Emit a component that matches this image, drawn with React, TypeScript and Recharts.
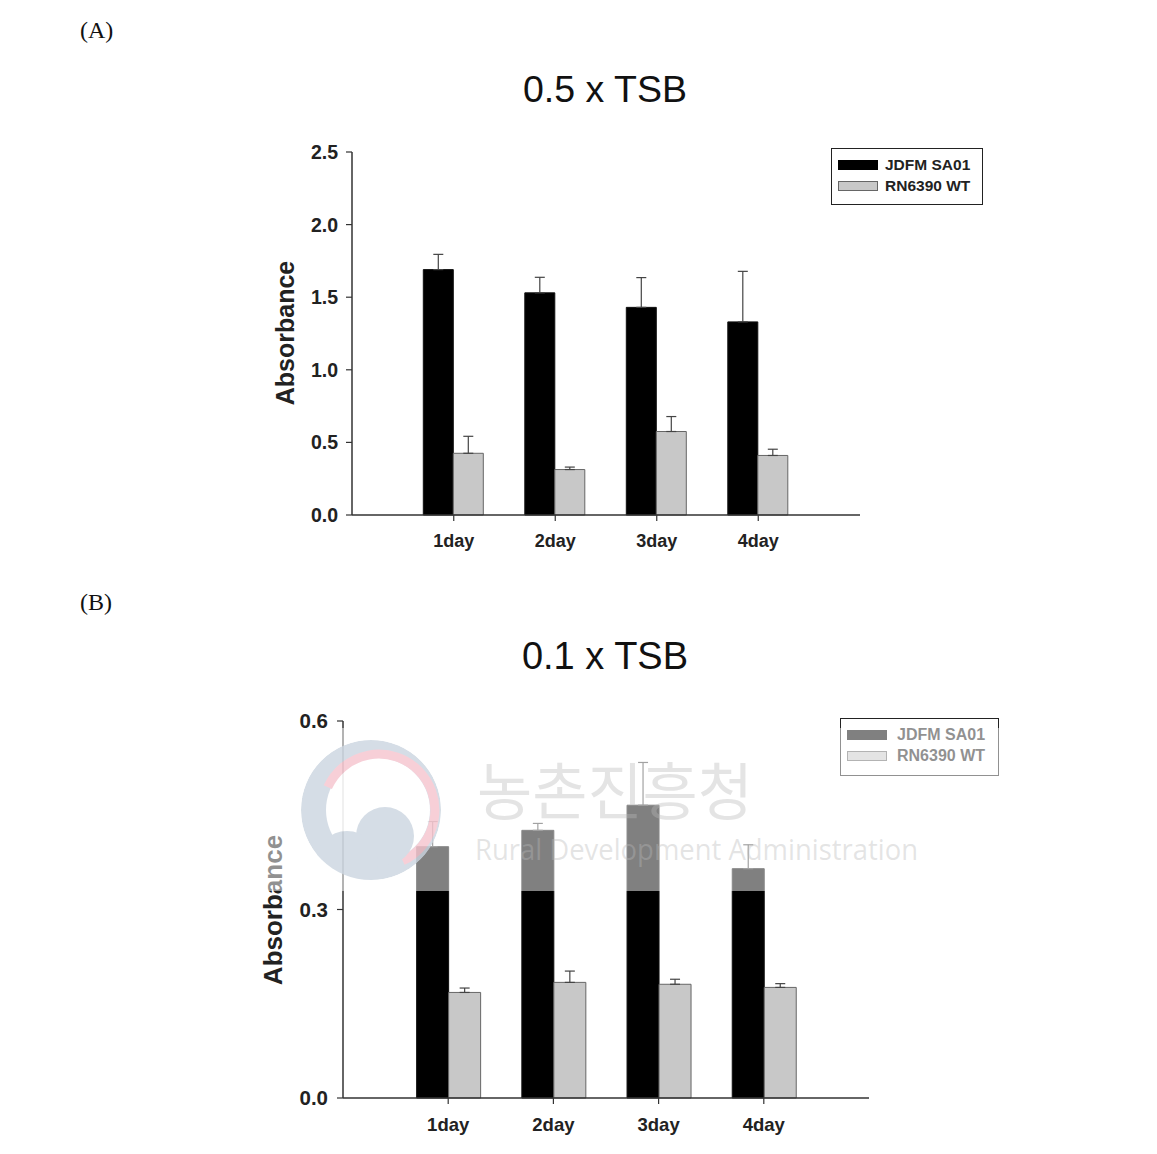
import React from "react";
import { BarChart, Bar, XAxis, YAxis, ErrorBar, Legend } from "recharts";

const days = ["1day", "2day", "3day", "4day"];
const strains = ["JDFM SA01", "RN6390 WT"];

// (A) 0.5 x TSB
const sa01Half = [1.69, 1.53, 1.43, 1.33];
const sa01HalfErr = [0.105, 0.107, 0.205, 0.348];
const wtHalf = [0.425, 0.313, 0.575, 0.41];
const wtHalfErr = [0.117, 0.017, 0.103, 0.043];
const ticksHalf = [0, 0.5, 1.0, 1.5, 2.0, 2.5];

// (B) 0.1 x TSB
const sa01Tenth = [0.4, 0.426, 0.466, 0.365];
const sa01TenthErr = [0.04, 0.011, 0.068, 0.038];
const wtTenth = [0.168, 0.184, 0.181, 0.176];
const wtTenthErr = [0.007, 0.018, 0.008, 0.006];
const ticksTenth = [0, 0.3, 0.6];

const BLACK = "#000000";
const GREY = "#c8c8c8";
const FONT = "'Liberation Sans', Arial, sans-serif";

// only the upper whisker is drawn, so errors are [0, sd]
const buildRows = (a: number[], aErr: number[], b: number[], bErr: number[]) =>
  days.map((day, i) => ({
    day,
    sa01: a[i],
    sa01Err: [0, aErr[i]],
    wt: b[i],
    wtErr: [0, bErr[i]],
  }));

const halfData = buildRows(sa01Half, sa01HalfErr, wtHalf, wtHalfErr);
const tenthData = buildRows(sa01Tenth, sa01TenthErr, wtTenth, wtTenthErr);

function LegendBox({ w, h, sw, tx, fs }: { w: number; h: number; sw: number; tx: number; fs: number }) {
  const fills = [BLACK, GREY];
  return (
    <div
      style={{
        position: "relative",
        width: w,
        height: h,
        boxSizing: "border-box",
        border: "1.5px solid #222",
        background: "#fff",
        fontFamily: FONT,
        fontWeight: 700,
        fontSize: fs,
        color: "#222",
      }}
    >
      {strains.map((s, i) => (
        <React.Fragment key={s}>
          <div
            style={{
              position: "absolute",
              left: 6,
              top: 11 + i * 21,
              width: sw,
              height: 10,
              background: fills[i],
              border: i === 1 ? "1px solid #666" : "none",
              boxSizing: "border-box",
            }}
          />
          <div style={{ position: "absolute", left: tx, top: 6 + i * 21, lineHeight: `${fs + 4}px`, whiteSpace: "nowrap" }}>
            {s}
          </div>
        </React.Fragment>
      ))}
    </div>
  );
}

type PanelProps = {
  data: any[];
  max: number;
  ticks: number[];
  top: number;
  height: number;
  margin: { top: number; right: number; bottom: number; left: number };
  pad: number;
  xfs: number;
  yfs: number;
  xGap: number;
  yGap: number;
  legend: { left: number; top: number; w: number; h: number; sw: number; tx: number; fs: number };
};

function Panel({ data, max, ticks, top, height, margin, pad, xfs, yfs, xGap, yGap, legend }: PanelProps) {
  const tickFont = { fill: "#222", fontWeight: 700, fontFamily: FONT };
  return (
    <div style={{ position: "absolute", left: 0, top }}>
      <BarChart width={1157} height={height} data={data} margin={margin} barCategoryGap="20%" barGap={0}>
        <XAxis
          dataKey="day"
          padding={{ left: pad, right: pad }}
          height={40}
          tickSize={6}
          tickMargin={xGap}
          tick={{ ...tickFont, fontSize: xfs }}
          axisLine={{ stroke: "#333", strokeWidth: 1.5 }}
          tickLine={{ stroke: "#333", strokeWidth: 1.2 }}
        />
        <YAxis
          type="number"
          domain={[0, max]}
          ticks={ticks}
          width={60}
          tickSize={6}
          tickMargin={yGap}
          tick={{ ...tickFont, fontSize: yfs }}
          tickFormatter={(v: number) => v.toFixed(1)}
          axisLine={{ stroke: "#333", strokeWidth: 1.5 }}
          tickLine={{ stroke: "#333", strokeWidth: 1.2 }}
        />
        <Legend
          verticalAlign="middle"
          layout="horizontal"
          wrapperStyle={{ left: legend.left, top: legend.top, width: legend.w, height: legend.h }}
          content={() => <LegendBox w={legend.w} h={legend.h} sw={legend.sw} tx={legend.tx} fs={legend.fs} />}
        />
        <Bar dataKey="sa01" name={strains[0]} fill={BLACK} stroke="#111" strokeWidth={1} isAnimationActive={false}>
          <ErrorBar dataKey="sa01Err" width={5} stroke="#444" strokeWidth={1.2} isAnimationActive={false} />
        </Bar>
        <Bar dataKey="wt" name={strains[1]} fill={GREY} stroke="#666" strokeWidth={1} isAnimationActive={false}>
          <ErrorBar dataKey="wtErr" width={5} stroke="#444" strokeWidth={1.2} isAnimationActive={false} />
        </Bar>
      </BarChart>
    </div>
  );
}

// point on a circle, angle in degrees (svg orientation)
const pt = (cx: number, cy: number, r: number, deg: number) => {
  const a = (deg * Math.PI) / 180;
  return `${(cx + r * Math.cos(a)).toFixed(1)} ${(cy + r * Math.sin(a)).toFixed(1)}`;
};

export default function App() {
  const wm = { fill: "#b8b8b8", fillOpacity: 0.38 };
  const logoBlue = "#cbd5e0";
  const logoPink = "#f6c4ce";
  return (
    <div style={{ position: "absolute", left: 0, top: 0, width: 1157, height: 1154, background: "#fff", overflow: "hidden" }}>
      <Panel
        data={halfData}
        max={2.5}
        ticks={ticksHalf}
        top={0}
        height={580}
        margin={{ top: 152, right: 297, bottom: 25, left: 292 }}
        pad={51}
        xfs={18}
        yfs={19.5}
        xGap={13}
        yGap={8}
        legend={{ left: 831, top: 148, w: 152, h: 57, sw: 40, tx: 53, fs: 15.5 }}
      />
      <Panel
        data={tenthData}
        max={0.6}
        ticks={ticksTenth}
        top={580}
        height={574}
        margin={{ top: 141, right: 288, bottom: 16, left: 283 }}
        pad={52.6}
        xfs={18.5}
        yfs={20.5}
        xGap={14}
        yGap={9}
        legend={{ left: 840, top: 138, w: 159, h: 58, sw: 40, tx: 56, fs: 16 }}
      />
      <svg width={1157} height={1154} style={{ position: "absolute", left: 0, top: 0, pointerEvents: "none" }}>
        <defs>
          <clipPath id="logoClip">
            <circle cx={371} cy={810} r={70} />
          </clipPath>
        </defs>
        <text x={80} y={38} fontFamily="'Liberation Serif', 'Times New Roman', serif" fontSize={24} fill="#111">(A)</text>
        <text x={80} y={610} fontFamily="'Liberation Serif', 'Times New Roman', serif" fontSize={24} fill="#111">(B)</text>
        <text x={605} y={102} textAnchor="middle" fontFamily={FONT} fontSize={37.5} fill="#111">0.5 x TSB</text>
        <text x={605} y={669} textAnchor="middle" fontFamily={FONT} fontSize={38} fill="#111">0.1 x TSB</text>
        <text transform="translate(294,333) rotate(-90)" textAnchor="middle" fontFamily={FONT} fontWeight={700} fontSize={25} fill="#222">
          Absorbance
        </text>
        <text transform="translate(282,910) rotate(-90)" textAnchor="middle" fontFamily={FONT} fontWeight={700} fontSize={26} fill="#222">
          Absorbance
        </text>
        {/* watermark laid over panel B */}
        <rect x={255} y={728} width={750} height={163} fill="#fff" fillOpacity={0.5} />
        <g opacity={0.8} clipPath="url(#logoClip)">
          <circle cx={371} cy={810} r={70} fill={logoBlue} />
          <circle cx={378} cy={810} r={52} fill="#fff" />
          <path
            d={`M ${pt(379, 810, 56, 204)} A 56 56 0 1 1 ${pt(379, 810, 56, 65)}`}
            fill="none"
            stroke={logoPink}
            strokeWidth={9}
          />
          <circle cx={385} cy={836} r={29} fill={logoBlue} />
          <circle cx={347} cy={862} r={31} fill={logoBlue} />
        </g>
        <text x={477} y={815} fontFamily="'Noto Sans CJK KR', sans-serif" fontSize={62} textLength={276} lengthAdjust="spacingAndGlyphs" {...wm}>
          농촌진흥청
        </text>
        <text x={475} y={860} fontFamily="'Open Sans', sans-serif" fontSize={29} textLength={443} lengthAdjust="spacingAndGlyphs" {...wm}>
          Rural Development Administration
        </text>
      </svg>
    </div>
  );
}
